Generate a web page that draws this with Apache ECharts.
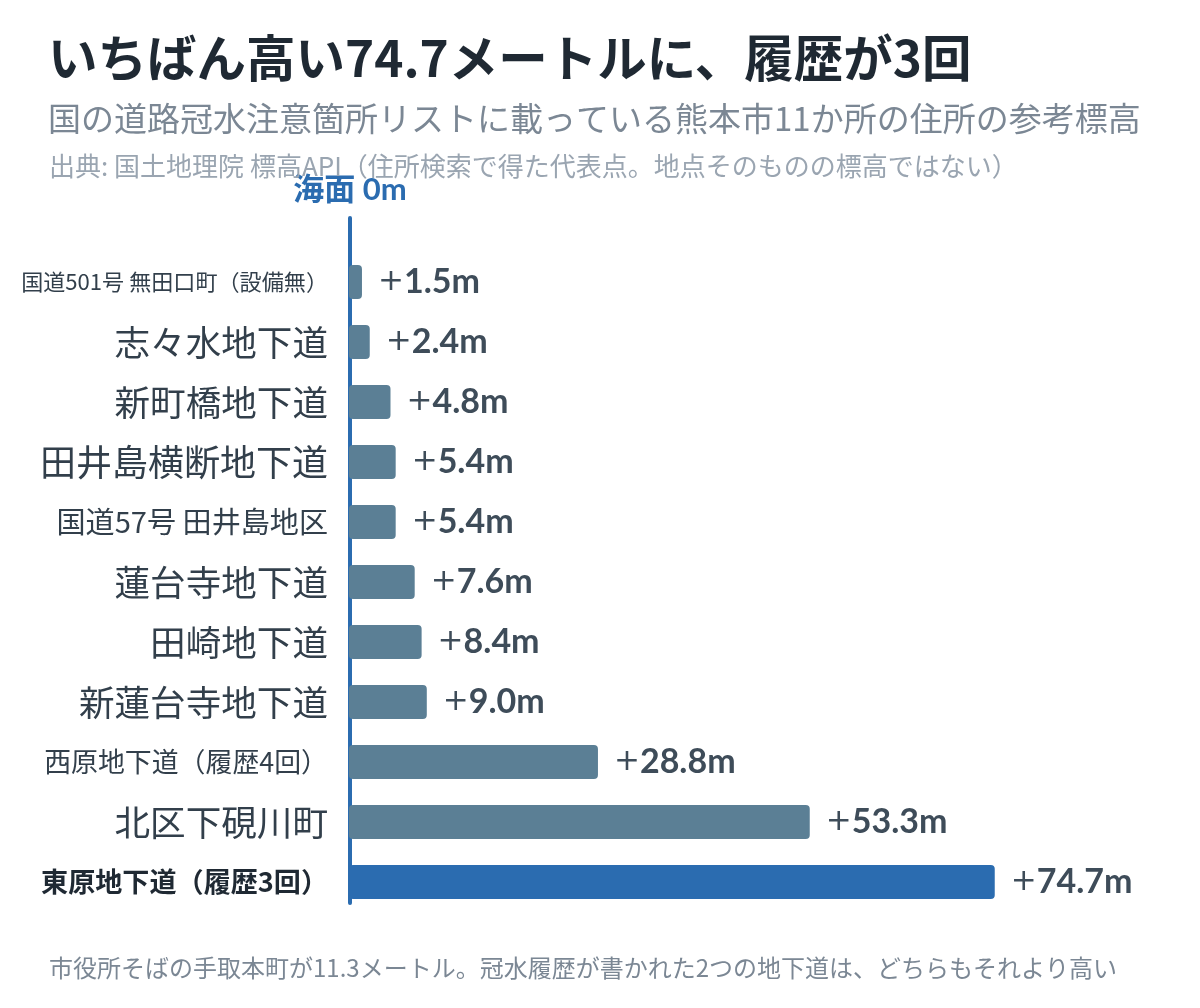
<!DOCTYPE html>
<html>
<head>
<meta charset="utf-8">
<script src="https://cdn.jsdelivr.net/npm/echarts@6/dist/echarts.min.js"></script>
<style>
html,body{margin:0;padding:0;background:#fff;}
#chart{width:1200px;height:1008px;}
</style>
</head>
<body>
<div id="chart"></div>
<script>
const categories = [
  '国道501号 無田口町（設備無）',
  '志々水地下道',
  '新町橋地下道',
  '田井島横断地下道',
  '国道57号 田井島地区',
  '蓮台寺地下道',
  '田崎地下道',
  '新蓮台寺地下道',
  '西原地下道（履歴4回）',
  '北区下硯川町',
  '東原地下道（履歴3回）'
];
const elevations = [1.5, 2.4, 4.8, 5.4, 5.4, 7.6, 8.4, 9.0, 28.8, 53.3, 74.7];
const highlightIndex = 10;
const titleText = 'いちばん高い74.7メートルに、履歴が3回';
const subtitleText = '国の道路冠水注意箇所リストに載っている熊本市11か所の住所の参考標高';
const sourceText = '出典: 国土地理院 標高API（住所検索で得た代表点。地点そのものの標高ではない）';
const footerText = '市役所そばの手取本町が11.3メートル。冠水履歴が書かれた2つの地下道は、どちらもそれより高い';
const zeroLabel = '海面 0m';

// style: category label font sizes (long names are shrunk)
const labelFontSizes = [22.1, 35.6, 35.6, 36, 29.1, 35.6, 35.6, 35.6, 26.9, 35.6, 27.1];

const CJK = '"Noto Sans CJK JP", "Noto Sans", sans-serif';
const NUM = 'Lato, "Noto Sans CJK JP", sans-serif';

const rich = {};
categories.forEach((c, i) => {
  const bold = i === highlightIndex;
  rich['c' + i] = {
    fontSize: labelFontSizes[i],
    fontFamily: CJK,
    fontWeight: bold ? 'bold' : 'normal',
    color: bold ? '#1f2933' : '#323f4b'
  };
});

const chart = echarts.init(document.getElementById('chart'));
const option = {
  backgroundColor: '#fff',
  animation: false,
  title: [
    { text: titleText, left: 43, top: 28,
      textStyle: { fontFamily: CJK, fontSize: 49.5, fontWeight: 'bold', color: '#1f2933' } },
    { text: subtitleText, left: 43, top: 97,
      textStyle: { fontFamily: CJK, fontSize: 33, fontWeight: 'normal', color: '#7b8794' } },
    { text: sourceText, left: 44, top: 148,
      textStyle: { fontFamily: CJK, fontSize: 26, fontWeight: 'normal', color: '#9aa5b1' } },
    { text: footerText, left: 44, top: 951,
      textStyle: { fontFamily: CJK, fontSize: 24, fontWeight: 'normal', color: '#7b8794' } }
  ],
  grid: [
    { left: 349, right: 73, top: 252, bottom: 96, containLabel: false, outerBoundsMode: 'none' },
    { left: 350, right: 72, top: 218, bottom: 105, containLabel: false, outerBoundsMode: 'none' }
  ],
  xAxis: [
    { type: 'value', gridIndex: 0, min: 0, max: 90, show: false },
    { type: 'value', gridIndex: 1, min: 0, max: 90, show: false }
  ],
  yAxis: [
    { type: 'category', gridIndex: 0, data: categories, inverse: true,
      axisLine: { show: false }, axisTick: { show: false }, splitLine: { show: false },
      axisLabel: { margin: 21, formatter: (v, i) => '{c' + i + '|' + v + '}', rich: rich } },
    { type: 'value', gridIndex: 1, min: 0, max: 1, position: 'left',
      axisLine: { show: true, lineStyle: { color: '#2b6cb0', width: 4 } },
      axisTick: { show: false }, axisLabel: { show: false }, splitLine: { show: false },
      name: zeroLabel, nameLocation: 'end', nameGap: 13,
      nameTextStyle: { fontFamily: NUM, fontSize: 31, fontWeight: 'bold', color: '#2b6cb0',
        align: 'center', verticalAlign: 'bottom' } }
  ],
  series: [
    { type: 'bar', xAxisIndex: 0, yAxisIndex: 0, barWidth: 34,
      data: elevations.map((v, i) => ({
        value: v,
        itemStyle: { color: i === highlightIndex ? '#2b6cb0' : '#5b7f95' }
      })),
      itemStyle: { borderRadius: 4 },
      label: {
        show: true, position: 'right', distance: 16,
        formatter: p => '{p|+}{v|' + p.value.toFixed(1) + 'm}',
        rich: {
          p: { fontFamily: '"DejaVu Sans", sans-serif', fontSize: 31, fontWeight: 'normal', color: '#3e4c59' },
          v: { fontFamily: NUM, fontSize: 34, fontWeight: 'bold', color: '#3e4c59' }
        }
      }
    },
    { type: 'line', xAxisIndex: 1, yAxisIndex: 1, data: [], silent: true }
  ]
};
chart.setOption(option);
</script>
</body>
</html>
